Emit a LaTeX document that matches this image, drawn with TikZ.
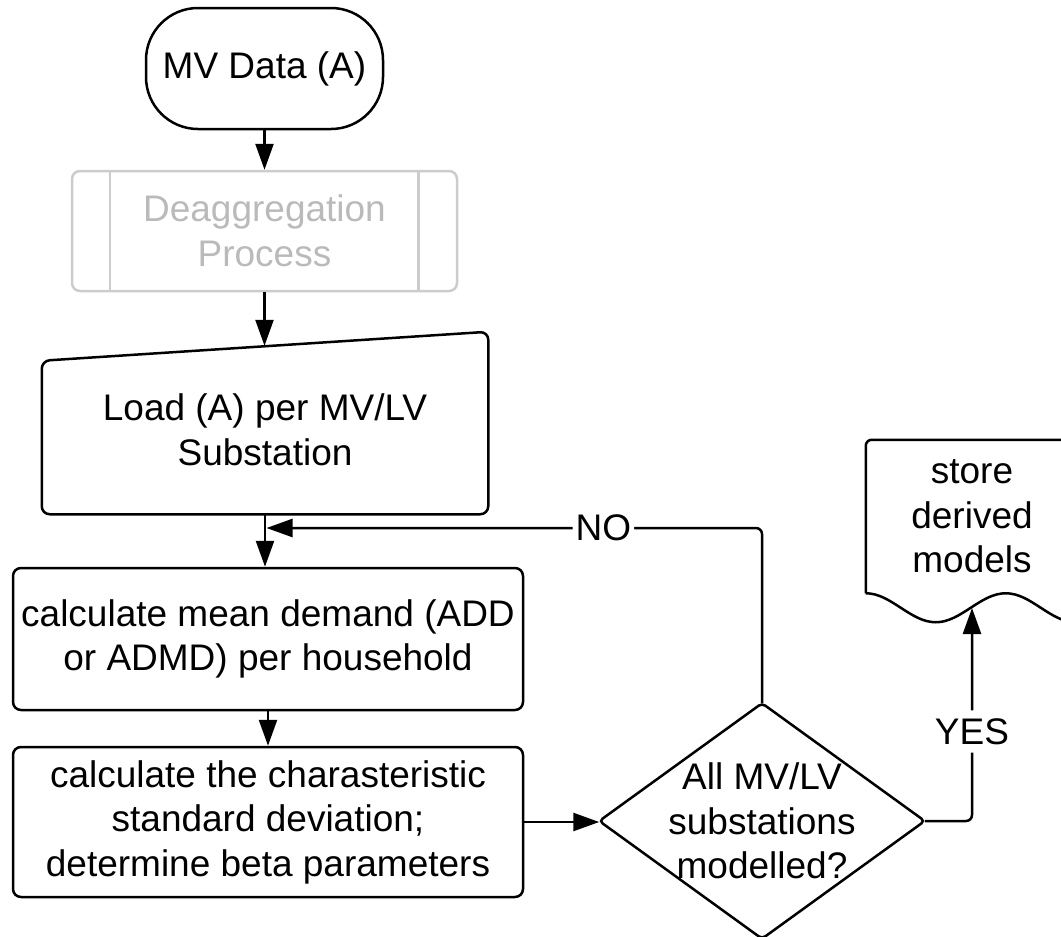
\documentclass[tikz,border=0pt]{standalone}
\usepackage{fontspec}
\setmainfont{Liberation Sans}
\usetikzlibrary{arrows.meta}
\begin{document}
\begin{tikzpicture}[x=1pt,y=-1pt,
  line width=2.5pt,
  every node/.style={font=\fontsize{37}{44.5}\selectfont, align=center, inner sep=0pt},
  flow/.style={draw, rounded corners=8pt},
  arr/.style={-{Triangle[length=26pt,width=18pt]}},
  lbl/.style={fill=white, inner xsep=3pt, inner ysep=8pt},
  faint/.style={draw=black!20}]
\useasboundingbox (0,0) rectangle (1061,937);
\clip (0,0) rectangle (1061,937);

% terminal
\node[draw, rounded corners=52pt, minimum width=237pt, minimum height=121pt] (start) at (264.5,68.5) {MV Data (A)};

% predefined process (grey)
\node[faint, rounded corners=8pt, minimum width=385pt, minimum height=120pt, text=black!27] (deagg) at (264.5,231) {Deaggregation\\Process};
\draw[faint] ([xshift=39pt]deagg.north west) -- ([xshift=39pt]deagg.south west);
\draw[faint] ([xshift=-40pt]deagg.north east) -- ([xshift=-40pt]deagg.south east);

% manual input
\node[minimum width=444pt, minimum height=166pt] (load) at (265,430) {Load (A) per MV/LV\\Substation};
\draw[rounded corners=8pt] (load.south west) -- (load.south east) -- ([yshift=14pt]load.north east) -- ([yshift=-15pt]load.north west) -- cycle;

% process boxes
\node[flow, minimum width=510pt, minimum height=142pt] (mean) at (268,639) {calculate mean demand (ADD\\or ADMD) per household};
\node[flow, minimum width=510pt, minimum height=150pt] (std) at (268,822) {calculate the charasteristic\\standard deviation;\\determine beta parameters};

% decision
\node[minimum width=323pt, minimum height=233pt] (dec) at (762,821) {All MV/LV\\substations\\modelled?};
\draw[rounded corners=4pt] (dec.north) -- (dec.east) -- (dec.south) -- (dec.west) -- cycle;

% document
\node[minimum width=210pt, minimum height=151pt] (store) at (972,516.5) {store\\derived\\models};
\draw[rounded corners=6pt] (store.south west) -- (store.north west) -- (store.north east) -- (1077,620);
\draw (store.south west) cos ++(35,14.5) sin ++(35,14.5) cos ++(35,-14.5) sin ++(35,-14.5) cos ++(35,14.5) sin ++(35,14.5);

% connectors
\coordinate (nojoin) at (266.5,528);
\coordinate (doctip) at (972,608);
\draw[arr] (start) -- (deagg);
\draw[arr] (deagg.south) -- (deagg.south |- load.north);
\draw[arr] (load.south) -- (load.south |- mean.north);
\draw[arr] (mean.south) -- (mean.south |- std.north);
\draw[arr] (std.east) -- (std.east -| dec.west);
\draw[arr, rounded corners=6pt] (dec.north) |- node[lbl, pos=0.66] {NO} (nojoin);
\draw[arr, rounded corners=6pt] (dec.east) -| node[lbl, pos=0.71] {YES} (doctip);
\end{tikzpicture}
\end{document}
